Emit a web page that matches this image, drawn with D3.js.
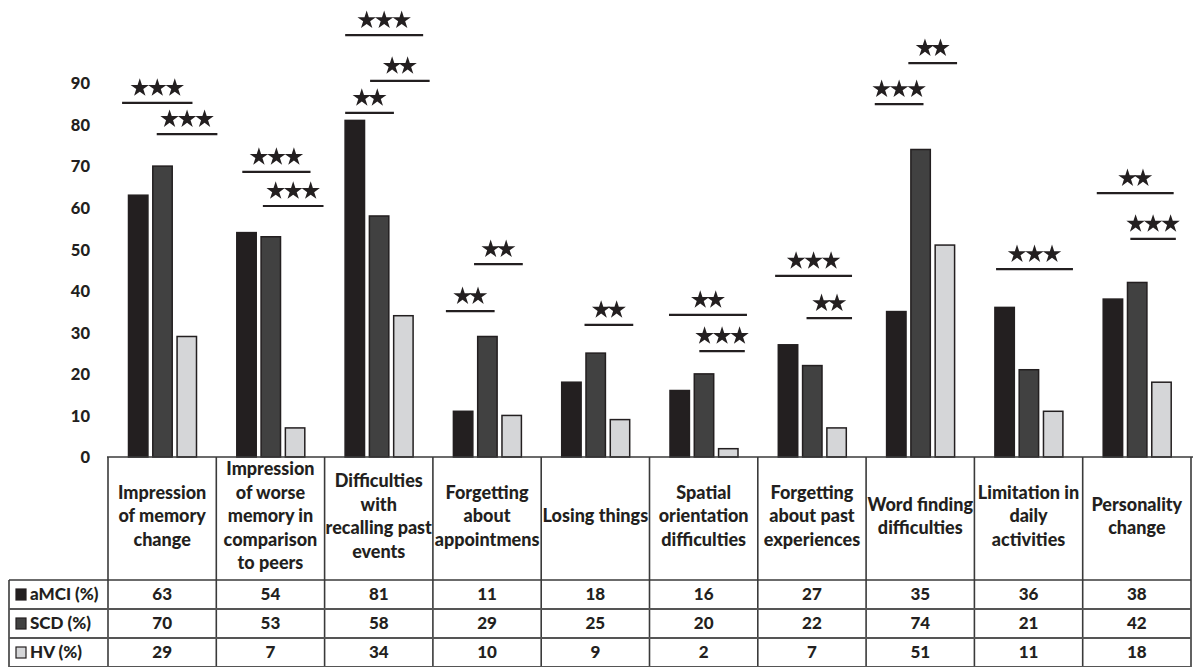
<!DOCTYPE html>
<html><head><meta charset="utf-8">
<script src="https://cdn.jsdelivr.net/npm/d3@7"></script>
<style>
html,body{margin:0;padding:0;background:#fff;}
svg{display:block;}
text{font-family:Lato,"Open Sans",sans-serif;font-weight:900;fill:#231f20;}
</style></head>
<body>
<script>
// ---- data ----
const categories = [
  "Impression\nof memory\nchange",
  "Impression\nof worse\nmemory in\ncomparison\nto peers",
  "Difficulties\nwith\nrecalling past\nevents",
  "Forgetting\nabout\nappointmens",
  "Losing things",
  "Spatial\norientation\ndifficulties",
  "Forgetting\nabout past\nexperiences",
  "Word finding\ndifficulties",
  "Limitation in\ndaily\nactivities",
  "Personality\nchange"
];
const seriesNames = ["aMCI (%)", "SCD (%)", "HV (%)"];
const aMCI = [63, 54, 81, 11, 18, 16, 27, 35, 36, 38];
const SCD  = [70, 53, 58, 29, 25, 20, 22, 74, 21, 42];
const HV   = [29, 7, 34, 10, 9, 2, 7, 51, 11, 18];
const yTicks = [0, 10, 20, 30, 40, 50, 60, 70, 80, 90];
// significance markers: category index, level (data units), span (fraction of category band), number of stars
const sigCat   = [0, 0, 1, 1, 2, 2, 2, 3, 3, 4, 5, 5, 6, 6, 7, 7, 8, 9, 9];
const sigLevel = [85.2, 77.7, 68.6, 60.4, 101.5, 90.5, 82.8, 35.1, 46.4, 31.8, 34.2, 25.5, 43.6, 33.4, 94.8, 84.9, 45.2, 63.5, 52.5];
const sigFrom  = [0.13, 0.45, 0.24, 0.43, 0.19, 0.42, 0.19, 0.12, 0.38, 0.40, 0.18, 0.46, 0.16, 0.45, 0.39, 0.08, 0.20, 0.13, 0.44];
const sigTo    = [0.78, 1.01, 0.87, 0.99, 0.91, 0.97, 0.64, 0.57, 0.83, 0.85, 0.90, 0.88, 0.87, 0.87, 0.84, 0.53, 0.91, 0.84, 0.86];
const sigStars = [3, 3, 3, 3, 3, 2, 2, 2, 2, 2, 2, 3, 3, 2, 2, 3, 3, 2, 3];

const seriesValues = [aMCI, SCD, HV];
const fills = ["#231f20", "#414141", "#d5d6d8"];

// ---- layout ----
const W = 1193, H = 667;
const left = 108, right = 1191;
const yTop = 83, yBase = 457;
const rowTops = [580, 609, 638, 667];

const svg = d3.select("body").append("svg").attr("width", W).attr("height", H);

const x0 = d3.scaleBand().domain(d3.range(categories.length)).range([left, right]).padding(0);
const x1 = d3.scaleBand().domain(d3.range(seriesNames.length)).range([20.5, 88.5]).paddingInner(0.2).paddingOuter(0);
const y = d3.scaleLinear().domain([0, 90]).range([yBase, yTop]);

// y-axis labels (no axis line)
const yAxis = d3.axisLeft(y).tickValues(yTicks).tickSize(0).tickPadding(0);
const gy = svg.append("g").attr("transform", "translate(90,0)").call(yAxis);
gy.select(".domain").remove();
gy.selectAll("text").attr("font-size", 16.5).attr("font-family", "Lato").attr("font-weight", 900).attr("fill", "#231f20").attr("dy", "0.35em");

// bars
const groups = svg.append("g").selectAll("g").data(categories).join("g")
  .attr("transform", (d, i) => `translate(${x0(i)},0)`);
groups.selectAll("rect").data((d, i) => seriesValues.map((s, k) => ({k, v: s[i]}))).join("rect")
  .attr("x", d => x1(d.k))
  .attr("width", x1.bandwidth())
  .attr("y", d => y(d.v))
  .attr("height", d => yBase - y(d.v))
  .attr("fill", d => fills[d.k])
  .attr("stroke", "#231f20")
  .attr("stroke-width", 1.5);

// significance markers
const star = d3.symbol().type(d3.symbolStar).size(105);
const sig = svg.append("g");
sigCat.forEach((c, i) => {
  const xa = x0(c) + sigFrom[i] * x0.bandwidth();
  const xb = x0(c) + sigTo[i] * x0.bandwidth();
  const yl = y(sigLevel[i]);
  sig.append("line").attr("x1", xa).attr("x2", xb).attr("y1", yl).attr("y2", yl)
    .attr("stroke", "#231f20").attr("stroke-width", 2.2);
  const n = sigStars[i];
  const sp = n === 3 ? 17.5 : 15.5;
  const cx = (xa + xb) / 2;
  for (let s = 0; s < n; s++) {
    sig.append("path").attr("d", star)
      .attr("transform", `translate(${cx + (s - (n - 1) / 2) * sp},${yl - 15})`)
      .attr("fill", "#231f20");
  }
});

// table
const tbl = svg.append("g");
const lineC = "#3a3a3a";
tbl.append("line").attr("x1", left - 1).attr("x2", W).attr("y1", yBase).attr("y2", yBase)
  .attr("stroke", lineC).attr("stroke-width", 1.6);
for (let i = 0; i <= categories.length; i++) {
  const xv = i < categories.length ? x0(i) : right;
  tbl.append("line").attr("x1", xv).attr("x2", xv).attr("y1", yBase).attr("y2", H)
    .attr("stroke", lineC).attr("stroke-width", 1.6);
}
tbl.append("line").attr("x1", 9).attr("x2", 9).attr("y1", rowTops[0]).attr("y2", H)
  .attr("stroke", lineC).attr("stroke-width", 1.6);
rowTops.forEach((ry, r) => {
  tbl.append("line").attr("x1", 9).attr("x2", right).attr("y1", ry).attr("y2", ry)
    .attr("stroke", r === 0 ? lineC : "#555").attr("stroke-width", r === 0 ? 1.6 : 2);
});

// header labels
const hdrCenter = 516, lh = 23.5;
categories.forEach((c, i) => {
  const lines = c.split("\n");
  const t = tbl.append("text").attr("text-anchor", "middle").attr("font-size", 18);
  lines.forEach((ln, j) => {
    t.append("tspan").attr("x", x0(i) + x0.bandwidth() / 2)
      .attr("y", hdrCenter + (j - (lines.length - 1) / 2) * lh)
      .attr("dy", "0.35em").text(ln);
  });
});

// rows
seriesNames.forEach((name, r) => {
  const cy = (rowTops[r] + rowTops[r + 1]) / 2;
  tbl.append("rect").attr("x", 16).attr("y", cy - 5.5).attr("width", 10).attr("height", 11)
    .attr("fill", fills[r]).attr("stroke", "#231f20").attr("stroke-width", 1.2);
  tbl.append("text").attr("x", 30).attr("y", cy).attr("dy", "0.35em").attr("font-size", 17).text(name);
  seriesValues[r].forEach((v, i) => {
    tbl.append("text").attr("x", x0(i) + x0.bandwidth() / 2).attr("y", cy).attr("dy", "0.35em")
      .attr("text-anchor", "middle").attr("font-size", 17).text(v);
  });
});
</script>
</body></html>
